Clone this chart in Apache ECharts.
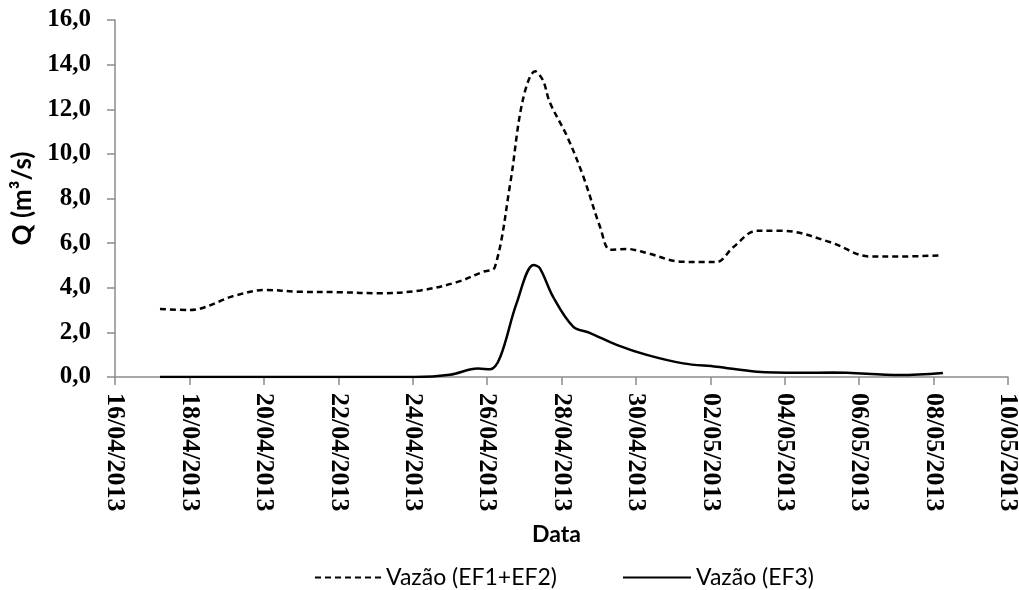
<!DOCTYPE html>
<html>
<head>
<meta charset="utf-8">
<script src="https://cdn.jsdelivr.net/npm/echarts@6/dist/echarts.min.js"></script>
<style>html,body{margin:0;padding:0;background:#fff}#c{width:1019px;height:590px}</style>
</head>
<body>
<div id="c"></div>
<script>
// Start date of the x axis (day 0) and tick labels every 2 days
const startDate = '2013-04-16 00:00';
const endDate = '2013-05-10 00:00';
const yTicks = [0, 2, 4, 6, 8, 10, 12, 14, 16];

// Series: Vazão (EF1+EF2)
const timesEF12 = ['2013-04-17 05:00','2013-04-18 00:00','2013-04-19 05:30','2013-04-20 01:00','2013-04-20 23:00','2013-04-22 01:00','2013-04-23 03:00','2013-04-24 05:00','2013-04-25 04:30','2013-04-25 21:30','2013-04-26 05:00','2013-04-26 15:00','2013-04-26 23:00','2013-04-27 07:00','2013-04-27 12:00','2013-04-27 16:30','2013-04-28 03:30','2013-04-28 14:00','2013-04-29 01:00','2013-04-29 07:30','2013-04-29 18:00','2013-04-30 07:00','2013-05-01 04:30','2013-05-02 04:00','2013-05-02 14:30','2013-05-03 06:00','2013-05-03 23:00','2013-05-05 05:00','2013-05-06 07:00','2013-05-07 02:30','2013-05-08 04:00'];
const valuesEF12 = [3.05,3.0,3.65,3.9,3.82,3.8,3.75,3.88,4.25,4.72,4.92,8.7,12.4,13.7,13.3,12.3,10.8,9.0,6.7,5.7,5.74,5.56,5.17,5.15,5.8,6.55,6.55,6.05,5.4,5.4,5.45];

// Series: Vazão (EF3)
const timesEF3 = ['2013-04-17 05:00','2013-04-24 01:30','2013-04-25 00:00','2013-04-25 18:00','2013-04-26 02:00','2013-04-26 08:30','2013-04-26 19:00','2013-04-27 06:00','2013-04-27 10:00','2013-04-27 18:30','2013-04-28 07:30','2013-04-28 18:30','2013-04-29 12:00','2013-04-30 07:00','2013-05-01 06:30','2013-05-02 04:00','2013-05-03 06:00','2013-05-04 10:00','2013-05-05 07:00','2013-05-07 02:30','2013-05-08 06:00'];
const valuesEF3 = [0,0,0.1,0.38,0.35,0.9,3.3,5.02,4.88,3.6,2.26,1.97,1.43,0.99,0.61,0.46,0.24,0.19,0.2,0.09,0.18];

const seriesNames = ['Vazão (EF1+EF2)', 'Vazão (EF3)'];

function toMs(s){
  const [d,t] = s.split(' ');
  const [Y,M,D] = d.split('-').map(Number);
  const [h,m] = t.split(':').map(Number);
  return Date.UTC(Y, M-1, D, h, m);
}
const DAY = 86400000;
const t0 = toMs(startDate);
const dayOf = s => (toMs(s) - t0) / DAY;
const pad = n => (n < 10 ? '0' : '') + n;
function fmtDate(v){
  const d = new Date(t0 + v * DAY);
  return pad(d.getUTCDate()) + '/' + pad(d.getUTCMonth()+1) + '/' + d.getUTCFullYear();
}

const chart = echarts.init(document.getElementById('c'), null, {renderer:'canvas'});
const axisColor = '#8c8c8c';
chart.setOption({
  animation: false,
  backgroundColor: '#fff',
  grid: {left: 115, right: 11, top: 20, bottom: 213, outerBoundsMode: 'none', containLabel: false},
  legend: [
    {data: [seriesNames[0]], orient: 'horizontal', left: 309, top: 561, itemWidth: 69, itemHeight: 10, itemGap: 0,
     itemStyle: {opacity: 0},
     textStyle: {fontFamily: 'Lato', fontSize: 23, color: '#000', padding: [0,0,0,-3]}},
    {data: [seriesNames[1]], orient: 'horizontal', left: 617, top: 561, itemWidth: 68, itemHeight: 10, itemGap: 0,
     itemStyle: {opacity: 0},
     textStyle: {fontFamily: 'Lato', fontSize: 23, color: '#000', padding: [0,0,0,0]}}
  ],
  xAxis: {
    type: 'value', min: 0, max: dayOf(endDate), interval: 2,
    name: 'Data', nameLocation: 'middle', nameGap: 146,
    nameTextStyle: {fontFamily: 'Lato', fontWeight: 'bold', fontSize: 23, color: '#000', padding: [0, 10, 0, 0]},
    axisLine: {show: true, lineStyle: {color: axisColor, width: 1.5}},
    axisTick: {show: true, length: 8, lineStyle: {color: axisColor, width: 1.5}},
    splitLine: {show: false},
    axisLabel: {rotate: -90, margin: 16, formatter: fmtDate,
      fontFamily: 'Liberation Serif', fontWeight: 'bold', fontSize: 26, color: '#000'}
  },
  yAxis: {
    type: 'value', min: yTicks[0], max: yTicks[yTicks.length-1], interval: 2,
    name: 'Q (m³/s)', nameLocation: 'middle', nameGap: 79,
    nameTextStyle: {fontFamily: 'Lato', fontWeight: 'bold', fontSize: 26, color: '#000'},
    axisLine: {show: true, lineStyle: {color: axisColor, width: 1.5}},
    axisTick: {show: true, length: 8, lineStyle: {color: axisColor, width: 1.5}},
    splitLine: {show: false},
    axisLabel: {margin: 24, formatter: v => v.toFixed(1).replace('.', ','),
      fontFamily: 'Liberation Serif', fontWeight: 'bold', fontSize: 25, color: '#000'}
  },
  series: [
    {name: seriesNames[0], type: 'line', showSymbol: false, symbol: 'none', smooth: 0.35,
     data: timesEF12.map((t,i) => [dayOf(t), valuesEF12[i]]),
     lineStyle: {color: '#000', width: 2.5, type: [6,4]}, itemStyle: {color: '#000'}},
    {name: seriesNames[1], type: 'line', showSymbol: false, symbol: 'none', smooth: 0.35,
     data: timesEF3.map((t,i) => [dayOf(t), valuesEF3[i]]),
     lineStyle: {color: '#000', width: 2.5, type: 'solid'}, itemStyle: {color: '#000'}}
  ]
});
</script>
</body>
</html>
